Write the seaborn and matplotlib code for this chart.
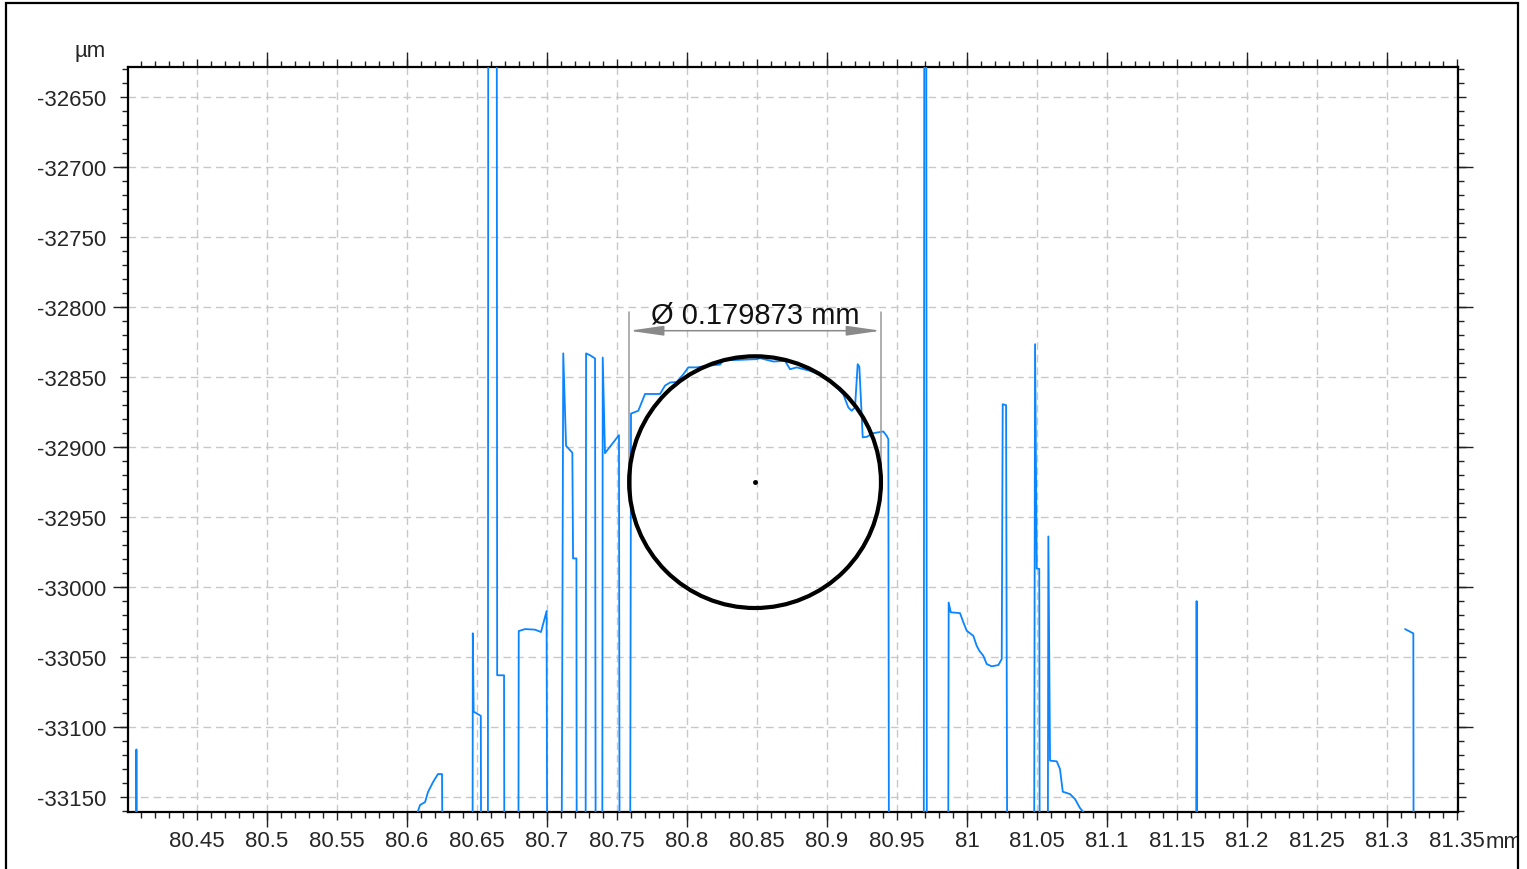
import matplotlib
matplotlib.use("Agg")
import matplotlib.pyplot as plt
import pandas as pd
import numpy as np
import seaborn as sns
from matplotlib.patches import Ellipse, Rectangle
from matplotlib.ticker import MultipleLocator, FuncFormatter

# profile values (mm, um); LOW / HIGH = off the visible window
LOW = -33400
HIGH = -32400

profile_x = [80.4055, 80.4067, 80.4082,
             80.6045, 80.6093, 80.6129, 80.6150, 80.6186, 80.6221, 80.6250, 80.6264,
             80.6466, 80.6470, 80.6476, 80.6527, 80.6534,
             80.6577, 80.6581, 80.6640, 80.6644, 80.6693, 80.6699,
             80.6793, 80.6798, 80.6843, 80.6914, 80.6957, 80.6997, 80.7006,
             80.7098, 80.7116, 80.7136, 80.7181, 80.7186, 80.7210, 80.7214,
             80.7274, 80.7279, 80.7307, 80.7343, 80.7350,
             80.7393, 80.7398, 80.7414, 80.7514, 80.7521,
             80.7590, 80.7600, 80.7652, 80.7700, 80.7807, 80.7843, 80.7879, 80.7926,
             80.7974, 80.8009, 80.8069, 80.8141, 80.8236, 80.8259, 80.8379, 80.8498,
             80.8521, 80.8616, 80.8700, 80.8736, 80.8783, 80.8879, 80.8950, 80.8998,
             80.9057, 80.9116, 80.9152, 80.9176, 80.9200, 80.9219, 80.9231, 80.9255,
             80.9284, 80.9331, 80.9402, 80.9426, 80.9438, 80.9445,
             80.9690, 80.9696, 80.9708, 80.9714,
             80.9862, 80.9869, 80.9884, 80.9950, 80.9974, 80.9998, 81.0045, 81.0069,
             81.0088, 81.0116, 81.0141, 81.0176, 81.0224, 81.0248, 81.0255, 81.0279, 81.0292,
             81.0476, 81.0486, 81.0498, 81.0516, 81.0522,
             81.0574, 81.0581, 81.0593, 81.0641, 81.0664, 81.0684, 81.0736, 81.0771,
             81.0807, 81.0850, 81.0900, 81.0950,
             81.1633, 81.1640, 81.1648]
profile_z = [LOW, -33116, LOW,
             -33170, -33155.7, -33153.6, -33146.4, -33139.3, -33133.6, -33133.6, LOW,
             LOW, -33033, -33089, -33092, LOW,
             LOW, HIGH, HIGH, -33063, -33063, LOW,
             LOW, -33031.4, -33030, -33030.4, -33032.1, -33017.1, LOW,
             LOW, -32833, -32899, -32904, -32979.5, -32979.5, LOW,
             LOW, -32833, -32834.3, -32836.6, LOW,
             LOW, -32836, -32904.3, -32891.4, LOW,
             LOW, -32876, -32874, -32862, -32862, -32856, -32853.8, -32853.4,
             -32847.9, -32843, -32843, -32841.9, -32841, -32838, -32837.6, -32837.1,
             -32836.4, -32838.8, -32838.4, -32844.3, -32843, -32845.5, -32847.9, -32850.2,
             -32856.2, -32862.1, -32871.6, -32874, -32871.6, -32840.7, -32842.6, -32893,
             -32892.6, -32890, -32888.8, -32891.9, -32894.3, LOW,
             LOW, HIGH, HIGH, LOW,
             LOW, -33011, -33018, -33018.6, -33025.2, -33031.2, -33034.8, -33041.9,
             -33045.5, -33049, -33055, -33056.6, -33055.7, -33051.4, -32869.3, -32870, LOW,
             LOW, -32826.4, -32986.7, -32987, LOW,
             LOW, -32963.8, -33124, -33124.5, -33130, -33146.2, -33147.9, -33151.4,
             -33157.9, -33163, -33185, LOW,
             LOW, -33010, LOW]

stub_x = [81.3129, 81.3188, 81.3192, 81.3520]
stub_z = [-33030, -33033.1, LOW, LOW]

# fitted circle
circle_cx = 80.8486
circle_cz = -32925.0
circle_d = 0.179873   # mm

df = pd.concat([
    pd.DataFrame({"x": profile_x, "z": profile_z, "seg": 0}),
    pd.DataFrame({"x": stub_x, "z": stub_z, "seg": 1}),
], ignore_index=True)

sns.set_style("ticks")
plt.rcParams["font.family"] = ["Liberation Sans", "DejaVu Sans"]

fig = plt.figure(figsize=(15.27, 8.70), dpi=100)
ax = fig.add_axes([0.08382, 0.06552, 0.87099, 0.85689])

sns.lineplot(data=df, x="x", y="z", units="seg", estimator=None,
             color="#0a84ff", lw=1.3, ax=ax, zorder=3)

# circle + dimension
r = circle_d / 2
ax.add_patch(Ellipse((circle_cx, circle_cz), circle_d, circle_d * 1000,
                     fill=False, ec="black", lw=3.0, zorder=5))
ax.plot([circle_cx], [circle_cz], "o", ms=2.5, color="black", zorder=6)
dim_z = -32816.8
for xe in (circle_cx - r, circle_cx + r):
    ax.plot([xe, xe], [circle_cz, -32803.6], color="#999999", lw=1.1, zorder=4)
ax.annotate("", xy=(circle_cx + r, dim_z), xytext=(circle_cx - r, dim_z),
            arrowprops=dict(arrowstyle="<|-|>,head_length=2.1,head_width=0.3",
                            mutation_scale=10, color="#8a8a8a", lw=1.1,
                            shrinkA=0, shrinkB=0), zorder=4)
ax.text(circle_cx, -32811.1, "Ø 0.179873 mm", ha="center", va="baseline",
        fontsize=21, color="#111111", zorder=6)

ax.set_xlim(80.4007, 81.3507)
ax.set_ylim(-33160.7, -32628.0)
ax.set_xlabel("")
ax.set_ylabel("")

ax.xaxis.set_major_locator(MultipleLocator(0.05))
ax.xaxis.set_minor_locator(MultipleLocator(0.01))
ax.yaxis.set_major_locator(MultipleLocator(50))
ax.yaxis.set_minor_locator(MultipleLocator(10))
ax.xaxis.set_major_formatter(FuncFormatter(lambda v, p: f"{v:.2f}".rstrip("0").rstrip(".")))
ax.yaxis.set_major_formatter(FuncFormatter(lambda v, p: f"{v:.0f}"))

ax.tick_params(which="both", direction="out", top=True, right=True,
               labeltop=False, labelright=False, width=1, color="#222222")
ax.tick_params(which="major", length=5.8, labelsize=16)
ax.tick_params(axis="x", which="major", pad=7)
ax.tick_params(axis="y", which="major", pad=10)
ax.tick_params(which="minor", length=4.3)

for s in ax.spines.values():
    s.set_linewidth(1.6)
    s.set_color("black")

ax.grid(True, which="major", color="#c8c8c8", linestyle=(0, (5.5, 3.5)), lw=1)
ax.set_axisbelow(True)

# longer ticks every 0.1 mm / 100 um
for loc in ("top", "bottom"):
    sx = ax.secondary_xaxis(loc)
    sx.set_xticks(np.arange(80.5, 81.31, 0.1))
    sx.tick_params(length=10.8, width=1, color="#222222",
                   labelbottom=False, labeltop=False)
    for s in sx.spines.values():
        s.set_visible(False)
for loc in ("left", "right"):
    sy = ax.secondary_yaxis(loc)
    sy.set_yticks(np.arange(-33100, -32650, 100))
    sy.tick_params(length=10.8, width=1, color="#222222",
                   labelleft=False, labelright=False)
    for s in sy.spines.values():
        s.set_visible(False)

ax.text(-0.01654, 1.0145, "µm", transform=ax.transAxes, ha="right",
        va="baseline", fontsize=16)
ax.text(1.0210, -0.0466, "mm", transform=ax.transAxes, ha="left",
        va="baseline", fontsize=16)

# outer frame of the screenshot
fig.patches.append(Rectangle((0.99476, 0), 0.01, 1, transform=fig.transFigure,
                             color="white", zorder=10))
fig.patches.append(Rectangle((0.00393, -0.02), 0.98985, 1.01483,
                             transform=fig.transFigure, fill=False,
                             ec="black", lw=1.6, zorder=11))

fig.savefig("out.png", dpi=100)
